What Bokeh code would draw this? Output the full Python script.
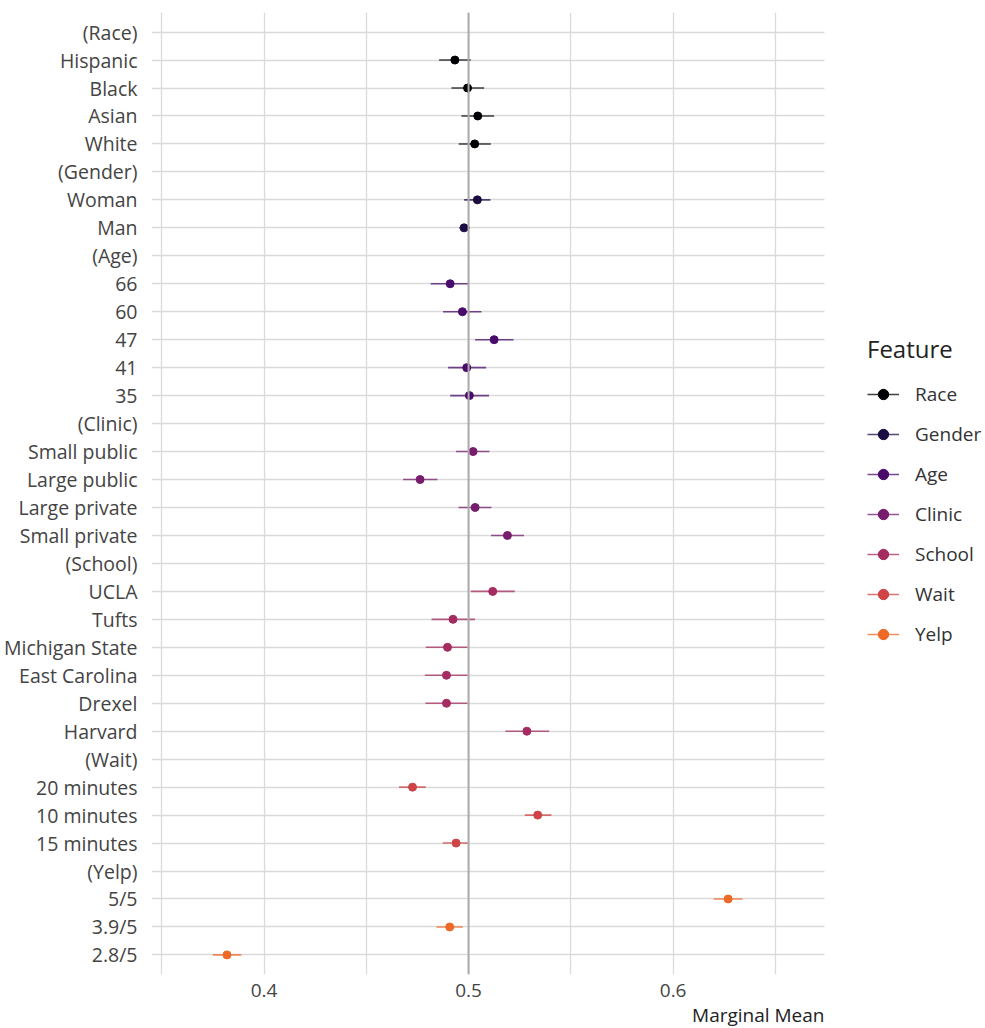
from bokeh.plotting import figure
from bokeh.models import (ColumnDataSource, FactorRange, Range1d, FixedTicker, Span,
                          Legend, LegendItem, Title)
from bokeh.embed import file_html
from bokeh.resources import INLINE

# ---- data ----
categories = ["(Race)", "Hispanic", "Black", "Asian", "White",
              "(Gender)", "Woman", "Man",
              "(Age)", "66", "60", "47", "41", "35",
              "(Clinic)", "Small public", "Large public", "Large private", "Small private",
              "(School)", "UCLA", "Tufts", "Michigan State", "East Carolina", "Drexel", "Harvard",
              "(Wait)", "20 minutes", "10 minutes", "15 minutes",
              "(Yelp)", "5/5", "3.9/5", "2.8/5"]

features = ["Race", "Gender", "Age", "Clinic", "School", "Wait", "Yelp"]
feature_colors = ["#000004", "#1B0C41", "#4A0C6B", "#781C6D", "#A52C60", "#CF4446", "#ED6925"]

levels = ["Hispanic", "Black", "Asian", "White",
          "Woman", "Man",
          "66", "60", "47", "41", "35",
          "Small public", "Large public", "Large private", "Small private",
          "UCLA", "Tufts", "Michigan State", "East Carolina", "Drexel", "Harvard",
          "20 minutes", "10 minutes", "15 minutes",
          "5/5", "3.9/5", "2.8/5"]
level_feature = ["Race"] * 4 + ["Gender"] * 2 + ["Age"] * 5 + ["Clinic"] * 4 + \
                ["School"] * 6 + ["Wait"] * 3 + ["Yelp"] * 3
estimate = [0.4933, 0.4995, 0.5045, 0.5030,
            0.5043, 0.4978,
            0.4910, 0.4970, 0.5125, 0.4991, 0.5004,
            0.5022, 0.4763, 0.5032, 0.5190,
            0.5118, 0.4924, 0.4897, 0.4892, 0.4892, 0.5285,
            0.4726, 0.5338, 0.4939,
            0.6269, 0.4908, 0.3819]
lower = [0.4856, 0.4916, 0.4965, 0.4952,
         0.4978, 0.4955,
         0.4815, 0.4875, 0.5032, 0.4900, 0.4910,
         0.4939, 0.4680, 0.4951, 0.5110,
         0.5011, 0.4819, 0.4791, 0.4786, 0.4789, 0.5180,
         0.4660, 0.5275, 0.4874,
         0.6198, 0.4843, 0.3750]
upper = [0.5011, 0.5076, 0.5125, 0.5109,
         0.5107, 0.5007,
         0.4998, 0.5063, 0.5220, 0.5086, 0.5100,
         0.5102, 0.4848, 0.5112, 0.5271,
         0.5226, 0.5032, 0.4996, 0.4996, 0.4996, 0.5394,
         0.4791, 0.5405, 0.4998,
         0.6340, 0.4972, 0.3889]

x_ticks = [0.4, 0.5, 0.6]
x_minor = [0.35, 0.45, 0.55, 0.65]
x_lo, x_hi = 0.345, 0.674          # panel limits of the data area

FONT = "Open Sans"
TXT = "#444444"
GRID = "#dadada"

LEFT = 143                          # room for the category labels
PANEL_W = 673                       # data panel width in px
FRAME_W = 975 - LEFT                # frame also holds the legend area on the right
x_end = x_lo + (x_hi - x_lo) * FRAME_W / PANEL_W

p = figure(frame_width=FRAME_W, frame_height=962, output_backend="svg", toolbar_location=None,
           y_range=FactorRange(factors=list(reversed(categories)), range_padding=0.2,
                               range_padding_units="absolute"),
           x_range=Range1d(x_lo, x_end),
           min_border_left=LEFT, min_border_top=12, min_border_right=0, min_border_bottom=10)
p.outline_line_color = None
p.background_fill_color = "white"
p.border_fill_color = "white"

p.xaxis.ticker = FixedTicker(ticks=x_ticks, minor_ticks=x_minor)
for ax in (p.xaxis, p.yaxis):
    ax.axis_line_color = None
    ax.major_tick_line_color = None
    ax.minor_tick_line_color = None
    ax.major_label_text_font = FONT
    ax.major_label_text_color = TXT
p.yaxis.major_label_text_font_size = "19.5px"
p.xaxis.major_label_text_font_size = "19px"
p.yaxis.major_label_standoff = 8
p.xaxis.major_label_standoff = 3

p.xgrid.grid_line_color = GRID
p.xgrid.grid_line_width = 1.3
p.xgrid.minor_grid_line_color = GRID
p.xgrid.minor_grid_line_width = 1.3

yg = p.ygrid[0]
if "cross_bounds" in yg.properties():
    yg.grid_line_color = GRID
    yg.grid_line_width = 1.3
    yg.cross_bounds = (x_lo, x_hi)
else:
    yg.visible = False
    p.segment(x0=[x_lo] * len(categories), y0=categories, x1=[x_hi] * len(categories),
              y1=categories, line_color=GRID, line_width=1.3)

p.add_layout(Span(location=0.5, dimension="height", line_color="#ababab", line_width=2))

items = []
for feat, col in zip(features, feature_colors):
    idx = [i for i, f in enumerate(level_feature) if f == feat]
    src = ColumnDataSource(dict(
        y=[levels[i] for i in idx],
        est=[estimate[i] for i in idx],
        lo=[lower[i] for i in idx],
        hi=[upper[i] for i in idx]))
    seg = p.segment(x0="lo", y0="y", x1="hi", y1="y", source=src,
                    line_color=col, line_width=1.6, line_alpha=0.75)
    pts = p.scatter(x="est", y="y", source=src, size=8, fill_color=col, line_color=col)
    items.append(LegendItem(label=feat, renderers=[seg, pts]))

legend = Legend(items=items, title="Feature", location=(PANEL_W + 40, 324),
                title_text_font=FONT, title_text_font_size="24px", title_text_font_style="normal",
                title_text_color="#222222", title_standoff=16,
                label_text_font=FONT, label_text_font_size="19px", label_text_color="#333333",
                glyph_width=32, glyph_height=26, label_height=26, spacing=14,
                label_standoff=16, padding=3, margin=0,
                border_line_alpha=0, background_fill_alpha=0)
p.add_layout(legend)

p.add_layout(Title(text="Marginal Mean", align="right", offset=FRAME_W - PANEL_W,
                   text_font=FONT, text_font_size="19px",
                   text_font_style="normal", text_color="#222222", standoff=0), "below")

open("out.html", "w").write(file_html(p, INLINE))
